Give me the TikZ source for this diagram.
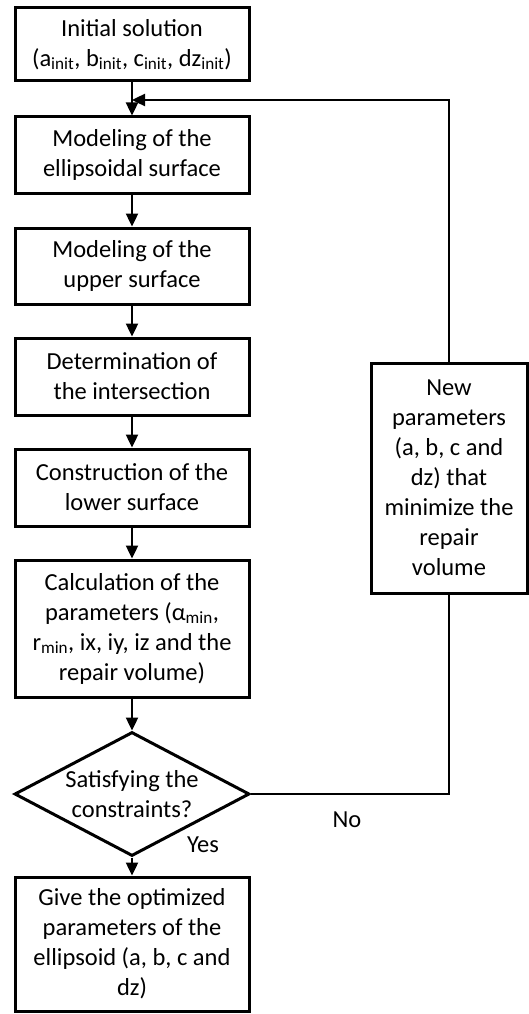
\documentclass[tikz,border=0pt]{standalone}
\usepackage{fontspec}
\setmainfont{Carlito}
\usetikzlibrary{shapes.geometric,arrows.meta,calc}
\begin{document}
\begin{tikzpicture}[x=1pt,y=-1pt,
  every node/.style={font=\fontsize{24.5}{30}\selectfont, text=black},
  proc/.style={draw=black, line width=3pt, align=center, inner sep=0pt, minimum width=234pt},
  dec/.style={draw=black, line width=3pt, align=center, diamond, aspect=1.9, inner sep=0pt, minimum width=235pt, minimum height=124pt},
  conn/.style={line width=2.4pt, draw=black},
  arr/.style={conn, -{Triangle[length=13pt,width=12pt]}}]
\useasboundingbox (0,0) rectangle (528,1014);
\node[proc, minimum height=73pt] (b1) at (132,44.5) {Initial solution\\(a\textsubscript{init}, b\textsubscript{init}, c\textsubscript{init}, dz\textsubscript{init})};
\node[proc, minimum height=76pt] (b2) at (132,155) {Modeling of the\\ellipsoidal surface};
\node[proc, minimum height=76pt] (b3) at (132,266) {Modeling of the\\upper surface};
\node[proc, minimum height=77pt] (b4) at (132,376.5) {Determination of\\the intersection};
\node[proc, minimum height=77pt] (b5) at (132,487.5) {Construction of the\\lower surface};
\node[proc, minimum height=137pt] (b6) at (132,628.5) {Calculation of the\\parameters (α\textsubscript{min},\\r\textsubscript{min}, ix, iy, iz and the\\repair volume)};
\node[dec] (d) at (132,794) {Satisfying the\\constraints?};
\node[proc, minimum height=134pt] (b7) at (132,944) {Give the optimized\\parameters of the\\ellipsoid (a, b, c and\\dz)};
\node[proc, minimum width=156pt, minimum height=230pt] (nb) at (449,478) {New\\parameters\\(a, b, c and\\dz) that\\minimize the\\repair\\volume};
\node (no) at (347,820) {No};
\node (yes) at (203,845) {Yes};
\coordinate (m) at (132,100);
\draw[arr] (b1) -- (b2);
\draw[arr] (b2) -- (b3);
\draw[arr] (b3) -- (b4);
\draw[arr] (b4) -- (b5);
\draw[arr] (b5) -- (b6);
\draw[arr] (b6) -- (d);
\draw[arr] (d) -- (b7);
\draw[conn] (d.east) -| (nb.south);
\draw[arr] (nb.north) |- (m);
\end{tikzpicture}
\end{document}
